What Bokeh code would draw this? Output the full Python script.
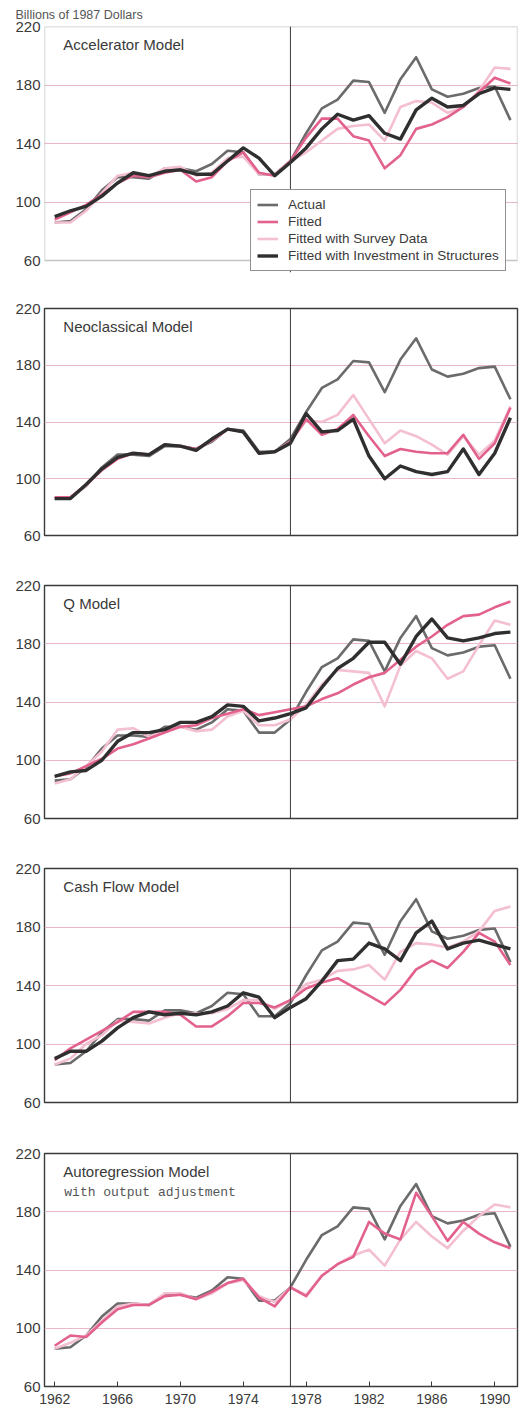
from bokeh.plotting import figure
from bokeh.models import Span, Label, Legend, LegendItem, FixedTicker, Range1d, BoxAnnotation
from bokeh.layouts import column
from bokeh.embed import file_html
from bokeh.resources import INLINE

# ---- data: business fixed investment, billions of 1987 dollars ----
years = list(range(1962, 1992))
year_ticks = [1962, 1966, 1970, 1974, 1978, 1982, 1986, 1990]
value_ticks = [60, 100, 140, 180, 220]
grid_ticks = [100, 140, 180]
sample_break = 1977

actual = [86, 87, 95, 108, 117, 117, 116, 123, 123, 121, 126, 135, 134, 119, 119,
          128, 147, 164, 170, 183, 182, 161, 184, 199, 177, 172, 174, 178, 179, 156]

acc_fitted = [88, 93, 98, 105, 113, 118, 117, 120, 122, 114, 117, 128, 134, 120, 118,
              128, 144, 157, 157, 145, 142, 123, 132, 150, 153, 158, 165, 175, 185, 181]
acc_survey = [86, 86, 94, 106, 118, 120, 117, 123, 124, 118, 120, 130, 131, 119, 119,
              128, 134, 142, 150, 152, 153, 142, 165, 169, 168, 161, 165, 176, 192, 191]
acc_struct = [90, 94, 97, 104, 113, 120, 118, 121, 122, 119, 119, 128, 137, 130, 118,
              127, 137, 150, 160, 156, 159, 147, 143, 163, 171, 165, 166, 174, 178, 177]

neo_fitted = [87, 87, 96, 106, 114, 118, 117, 124, 123, 121, 127, 135, 133, 118, 119,
              126, 142, 131, 135, 145, 130, 116, 121, 119, 118, 118, 131, 114, 125, 150]
neo_survey = [87, 87, 95, 107, 115, 118, 117, 124, 123, 120, 127, 135, 133, 118, 119,
              126, 141, 140, 145, 159, 142, 125, 134, 130, 124, 117, 130, 117, 127, 151]
neo_struct = [86, 86, 96, 107, 115, 118, 117, 124, 123, 120, 128, 135, 133, 118, 119,
              125, 146, 133, 134, 142, 116, 100, 109, 105, 103, 105, 121, 103, 118, 143]

q_fitted = [89, 91, 96, 101, 108, 111, 115, 119, 123, 124, 129, 132, 135, 131, 133,
            135, 137, 142, 146, 152, 157, 160, 169, 178, 185, 193, 199, 200, 205, 209]
q_survey = [84, 87, 96, 106, 121, 122, 116, 121, 123, 120, 121, 130, 134, 124, 124,
            128, 138, 152, 162, 161, 160, 137, 165, 175, 170, 156, 161, 179, 196, 193]
q_struct = [89, 92, 93, 100, 113, 119, 119, 121, 126, 126, 130, 138, 137, 127, 129,
            132, 136, 150, 163, 170, 181, 181, 166, 185, 197, 184, 182, 184, 187, 188]

cf_fitted = [89, 97, 103, 109, 115, 122, 122, 122, 120, 112, 112, 119, 128, 128, 125,
             130, 138, 142, 145, 139, 133, 127, 137, 151, 157, 152, 163, 176, 170, 154]
cf_survey = [86, 90, 100, 106, 116, 115, 114, 118, 121, 121, 121, 124, 130, 130, 124,
             130, 141, 144, 150, 151, 154, 144, 163, 169, 168, 166, 170, 177, 191, 194]
cf_struct = [90, 95, 95, 102, 111, 118, 122, 120, 121, 120, 122, 126, 135, 132, 118,
             125, 131, 143, 157, 158, 169, 165, 157, 176, 184, 165, 169, 171, 168, 165]

ar_fitted = [88, 95, 94, 104, 113, 116, 116, 122, 123, 120, 125, 131, 134, 121, 115,
             128, 122, 136, 144, 149, 173, 165, 161, 193, 177, 160, 173, 165, 159, 155]
ar_survey = [86, 90, 95, 105, 115, 117, 116, 124, 124, 120, 124, 131, 133, 122, 118,
             128, 123, 136, 144, 150, 154, 143, 161, 173, 163, 155, 167, 177, 185, 183]

series_names = ["Actual", "Fitted", "Fitted with Survey Data",
                "Fitted with Investment in Structures"]

# ---- styling ----
SANS = "Liberation Sans"
MONO = "Liberation Mono"
TEXT = "#3a3a3a"
STYLE = {
    "Actual": dict(color="#6b6b6b", width=2.6),
    "Fitted": dict(color="#e2618e", width=2.6),
    "Fitted with Survey Data": dict(color="#f3bfd1", width=2.6),
    "Fitted with Investment in Structures": dict(color="#2f2f2f", width=3.4),
}
DRAW_ORDER = ["Actual", "Fitted with Survey Data", "Fitted",
              "Fitted with Investment in Structures"]

X0, X1 = 1961.35, 1991.45
Y0, Y1 = 60, 220
FRAME_W = 478
PX_PER_YEAR = FRAME_W / (X1 - X0)


def make_panel(title, series, left, top, frame_h, bottom, subtitle=None,
               show_x=False, legend=False, heading=None, overhang=0):
    # frame_h is the height of the 60-220 box; `overhang` extra pixels of
    # plotting area are kept below it so a legend can hang over the box edge
    px_per_unit = frame_h / float(Y1 - Y0)
    height = top + frame_h + overhang + bottom
    y_start = Y0 - overhang / px_per_unit
    p = figure(width=525, height=height, x_range=Range1d(X0, X1),
               y_range=Range1d(y_start, Y1), output_backend="svg",
               toolbar_location=None, min_border_left=left,
               min_border_right=525 - left - FRAME_W, min_border_top=top,
               min_border_bottom=bottom)
    p.background_fill_color = "white"
    p.border_fill_color = "white"
    if overhang:
        p.outline_line_color = None
        p.add_layout(BoxAnnotation(bottom=Y0, fill_color=None, line_color=TEXT,
                                   line_width=1.4))
    else:
        p.outline_line_color = TEXT
        p.outline_line_width = 1.4

    p.xgrid.visible = False
    p.ygrid.ticker = FixedTicker(ticks=grid_ticks)
    p.ygrid.grid_line_color = "#e9b7c8"
    p.ygrid.grid_line_width = 1

    ya = p.yaxis[0]
    ya.ticker = FixedTicker(ticks=value_ticks)
    ya.axis_line_color = None
    ya.major_tick_line_color = None
    ya.minor_tick_line_color = None
    ya.major_tick_out = 0
    ya.major_tick_in = 0
    ya.major_label_standoff = 4
    ya.major_label_text_font = SANS
    ya.major_label_text_font_size = "15px"
    ya.major_label_text_color = TEXT

    xa = p.xaxis[0]
    if show_x:
        xa.ticker = FixedTicker(ticks=year_ticks)
        xa.axis_line_color = None
        xa.minor_tick_line_color = None
        xa.major_tick_line_color = TEXT
        xa.major_tick_in = 5
        xa.major_tick_out = 0
        xa.major_label_standoff = 7
        xa.major_label_text_font = SANS
        xa.major_label_text_font_size = "14px"
        xa.major_label_text_color = TEXT
    else:
        xa.visible = False

    p.add_layout(Span(location=sample_break, dimension="height",
                      line_color=TEXT, line_width=1))

    renderers = {}
    for name in DRAW_ORDER:
        if name not in series:
            continue
        st = STYLE[name]
        renderers[name] = p.line(years, series[name], line_color=st["color"],
                                 line_width=st["width"], line_join="round")

    p.add_layout(Label(x=X0 + 19 / PX_PER_YEAR, y=Y1 - 18 / px_per_unit,
                       text=title, text_font=SANS, text_font_size="15px",
                       text_color=TEXT, text_baseline="middle"))
    if subtitle:
        p.add_layout(Label(x=X0 + 20 / PX_PER_YEAR, y=Y1 - 39 / px_per_unit,
                           text=subtitle, text_font=MONO, text_font_size="13px",
                           text_color="#555555", text_baseline="middle"))

    if legend:
        items = [LegendItem(label=n, renderers=[renderers[n]]) for n in series_names]
        lg = Legend(items=items, location=(206, 1), orientation="vertical",
                    label_text_font=SANS, label_text_font_size="13.5px",
                    label_text_color=TEXT, label_height=17, glyph_height=17,
                    glyph_width=21, label_standoff=10, padding=6, spacing=0,
                    margin=0, border_line_color="#222222", border_line_width=1.2,
                    background_fill_color="white", background_fill_alpha=1.0)
        p.add_layout(lg, "center")

    if heading:
        p.title.text = heading
        p.title.text_font = SANS
        p.title.text_font_size = "12.5px"
        p.title.text_font_style = "normal"
        p.title.text_color = "#555555"
        p.title.align = "left"
        p.title.offset = 15 - left
        p.title.standoff = 9
    return p


p1 = make_panel("Accelerator Model",
                {"Actual": actual, "Fitted": acc_fitted,
                 "Fitted with Survey Data": acc_survey,
                 "Fitted with Investment in Structures": acc_struct},
                left=44, top=26, frame_h=234, bottom=8, legend=True,
                heading="Billions of 1987 Dollars", overhang=12)
p2 = make_panel("Neoclassical Model",
                {"Actual": actual, "Fitted": neo_fitted,
                 "Fitted with Survey Data": neo_survey,
                 "Fitted with Investment in Structures": neo_struct},
                left=44, top=28, frame_h=227, bottom=25)
p3 = make_panel("Q Model",
                {"Actual": actual, "Fitted": q_fitted,
                 "Fitted with Survey Data": q_survey,
                 "Fitted with Investment in Structures": q_struct},
                left=42, top=25, frame_h=233, bottom=27)
p4 = make_panel("Cash Flow Model",
                {"Actual": actual, "Fitted": cf_fitted,
                 "Fitted with Survey Data": cf_survey,
                 "Fitted with Investment in Structures": cf_struct},
                left=41, top=23, frame_h=234, bottom=18)
p5 = make_panel("Autoregression Model",
                {"Actual": actual, "Fitted": ar_fitted,
                 "Fitted with Survey Data": ar_survey},
                left=39, top=33, frame_h=233, bottom=25,
                subtitle="with output adjustment", show_x=True)

layout = column(p1, p2, p3, p4, p5, spacing=0)

with open("out.html", "w") as f:
    f.write(file_html(layout, INLINE))
